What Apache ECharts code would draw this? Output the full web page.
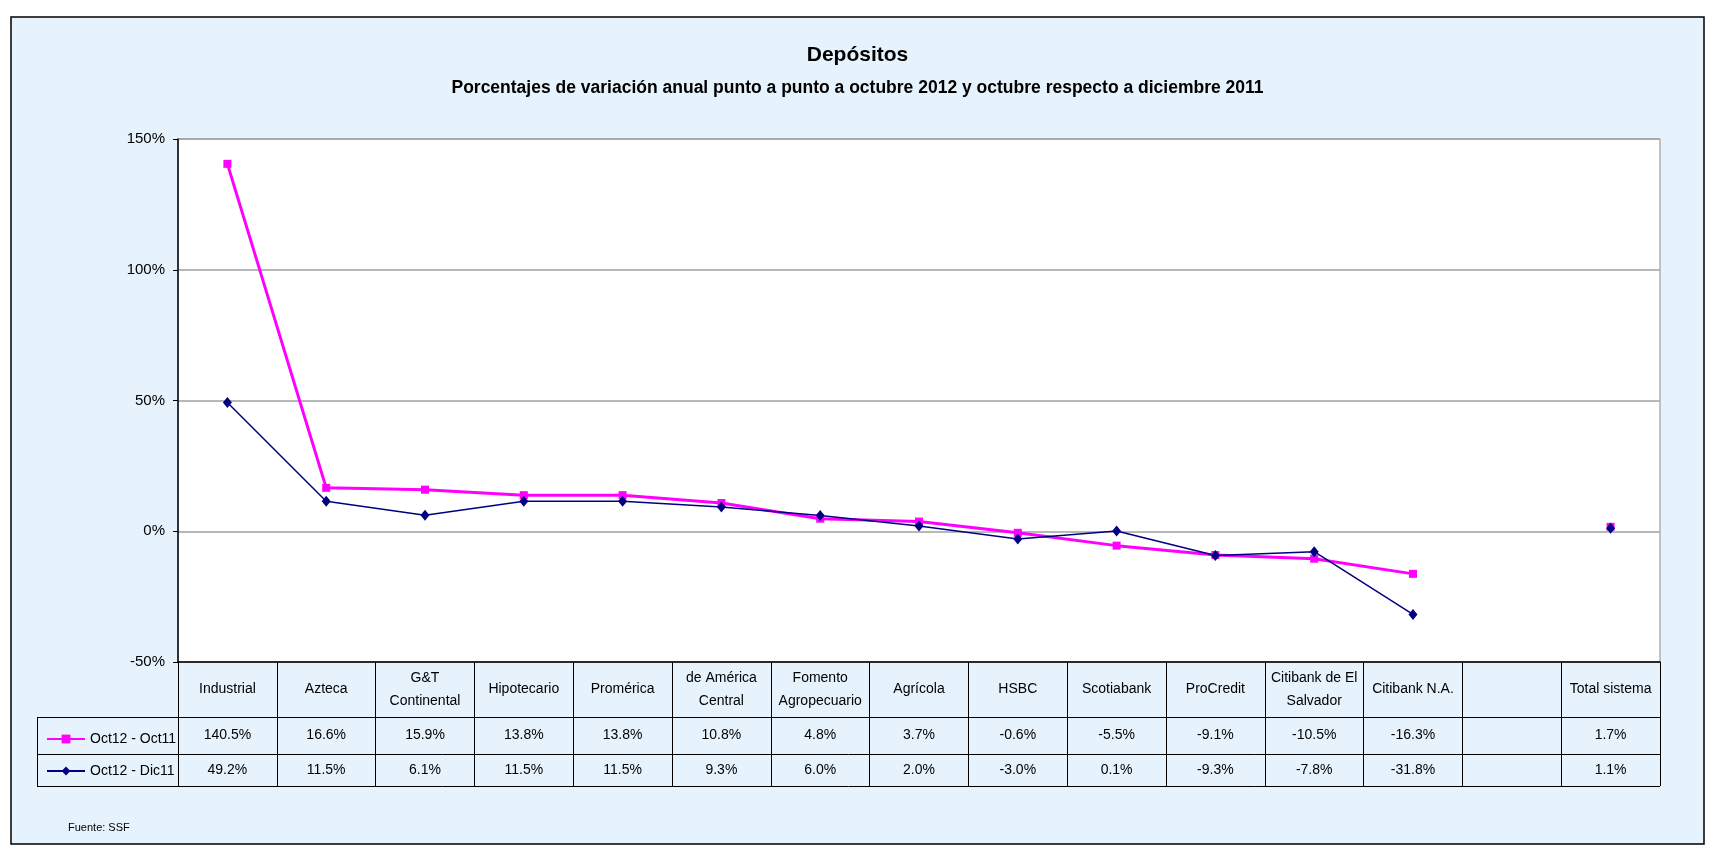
<!DOCTYPE html>
<html>
<head>
<meta charset="utf-8">
<script src="https://cdn.jsdelivr.net/npm/echarts@6/dist/echarts.min.js"></script>
<style>
  html, body { margin: 0; padding: 0; background: #fff; }
  #chart { width: 1715px; height: 853px; }
</style>
</head>
<body>
<div id="chart"></div>
<script>
// datos
const categories = ['Industrial', 'Azteca', 'G&T\nContinental', 'Hipotecario', 'Promérica',
  'de América\nCentral', 'Fomento\nAgropecuario', 'Agrícola', 'HSBC', 'Scotiabank',
  'ProCredit', 'Citibank de El\nSalvador', 'Citibank N.A.', '', 'Total sistema']
const oct12Oct11 = [140.5, 16.6, 15.9, 13.8, 13.8, 10.8, 4.8, 3.7, -0.6, -5.5, -9.1, -10.5, -16.3, null, 1.7]
const oct12Dic11 = [49.2, 11.5, 6.1, 11.5, 11.5, 9.3, 6.0, 2.0, -3.0, 0.1, -9.3, -7.8, -31.8, null, 1.1]
const seriesNames = ['Oct12 - Oct11', 'Oct12 - Dic11']
const yMin = -50
const yMax = 150
const yStep = 50

// layout (px)
const plotLeft = 178
const plotRight = 1660
const plotTop = 139
const plotBottom = 662
const headBottom = 717
const row1Bottom = 754
const row2Bottom = 786
const legendLeft = 37
const font = 'Liberation Sans'

const fmt = (v) => (v === null || v === undefined ? '' : v.toFixed(1) + '%')

const myChart = echarts.init(document.getElementById('chart'))

// filas de la tabla de datos, como ejes de categoria sin linea
const rowAxis = (values, center) => ({
  type: 'category',
  gridIndex: 0,
  position: 'bottom',
  data: categories,
  axisLine: { show: false },
  axisTick: { show: false },
  axisLabel: {
    interval: 0,
    margin: center - plotBottom,
    verticalAlign: 'middle',
    fontFamily: font,
    fontSize: 14,
    color: '#000',
    formatter: (val, idx) => fmt(values[idx]),
  },
})

const hLine = (y, x1) => ({
  type: 'line',
  shape: { x1: x1, y1: y + 0.5, x2: plotRight, y2: y + 0.5 },
  style: { stroke: '#000', lineWidth: 1 },
})

const option = {
  animation: false,
  textStyle: { fontFamily: font },
  title: {
    left: 'center',
    top: 40,
    text: 'Depósitos',
    subtext: 'Porcentajes de variación anual punto a punto a octubre 2012 y octubre respecto a diciembre 2011',
    itemGap: 13,
    textStyle: { fontFamily: font, fontSize: 21, fontWeight: 'bold', color: '#000' },
    subtextStyle: { fontFamily: font, fontSize: 17.5, fontWeight: 'bold', color: '#000' },
  },
  legend: {
    orient: 'vertical',
    left: legendLeft + 4,
    top: headBottom + 10,
    itemGap: 18,
    itemWidth: 38,
    itemHeight: 11,
    selectedMode: false,
    data: seriesNames,
    textStyle: { fontFamily: font, fontSize: 14, color: '#000' },
  },
  grid: {
    left: plotLeft,
    top: plotTop,
    right: 1715 - plotRight,
    bottom: 853 - plotBottom,
    show: true,
    backgroundColor: '#fff',
    borderColor: '#8c8c8c',
    borderWidth: 1,
  },
  xAxis: [
    {
      type: 'category',
      data: categories,
      boundaryGap: true,
      axisLine: { onZero: false, lineStyle: { color: '#000', width: 1.5 } },
      axisTick: { show: true, interval: 0, length: row2Bottom - plotBottom, lineStyle: { color: '#000', width: 1 } },
      axisLabel: {
        interval: 0,
        margin: (headBottom - plotBottom) / 2,
        verticalAlign: 'middle',
        lineHeight: 23,
        fontFamily: font,
        fontSize: 14,
        color: '#000',
      },
    },
    rowAxis(oct12Oct11, (headBottom + row1Bottom) / 2),
    rowAxis(oct12Dic11, (row1Bottom + row2Bottom) / 2),
  ],
  yAxis: {
    type: 'value',
    min: yMin,
    max: yMax,
    interval: yStep,
    axisLine: { show: true, lineStyle: { color: '#000', width: 1.5 } },
    axisTick: { show: true, length: 5, lineStyle: { color: '#000' } },
    axisLabel: { formatter: '{value}%', fontFamily: font, fontSize: 15, color: '#000', margin: 13 },
    splitLine: { lineStyle: { color: '#a0a0a0', width: 1.5 } },
  },
  series: [
    {
      name: seriesNames[0],
      type: 'line',
      data: oct12Oct11,
      color: '#ff00ff',
      symbol: 'rect',
      symbolSize: 8,
      lineStyle: { width: 3 },
    },
    {
      name: seriesNames[1],
      type: 'line',
      data: oct12Dic11,
      color: '#000080',
      symbol: 'diamond',
      symbolSize: [9, 11],
      lineStyle: { width: 1.5 },
    },
  ],
  graphic: [
    {
      type: 'rect',
      z: -100,
      silent: true,
      shape: { x: 11, y: 17, width: 1693, height: 827 },
      style: { fill: '#e6f3fd', stroke: '#000', lineWidth: 1.5 },
    },
    hLine(headBottom, plotLeft),
    hLine(row1Bottom, legendLeft),
    hLine(row2Bottom, legendLeft),
    hLine(headBottom, legendLeft),
    {
      type: 'line',
      shape: { x1: legendLeft + 0.5, y1: headBottom, x2: legendLeft + 0.5, y2: row2Bottom + 1 },
      style: { stroke: '#000', lineWidth: 1 },
    },
    {
      type: 'text',
      left: 68,
      top: 822,
      style: { text: 'Fuente: SSF', fontFamily: font, fontSize: 11, fill: '#000' },
    },
  ],
}

myChart.setOption(option)
</script>
</body>
</html>
